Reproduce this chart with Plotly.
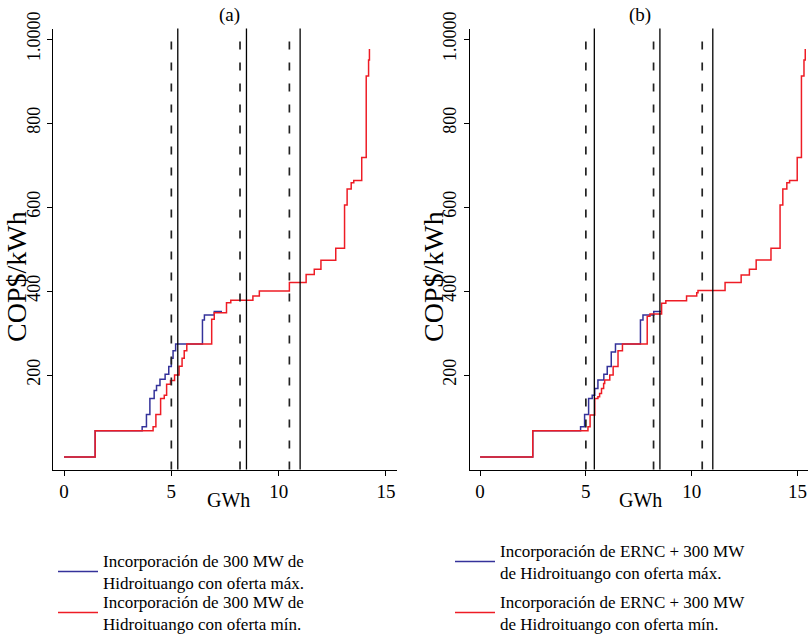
import plotly.graph_objects as go

# ---------------- data ----------------
# Panel (a): step curves (GWh, COP$/kWh)
xa_max = [0, 1.45, 3.64, 3.84, 4.0, 4.2, 4.31, 4.47, 4.71, 4.88, 5.0, 5.08, 5.2, 6.45, 6.54, 7.0, 7.36]
ya_max = [5, 67, 77, 106, 144, 163, 175, 190, 202, 220, 240, 258, 274, 331, 343, 351, 351]

xa_min = [0, 1.45, 4.15, 4.28, 4.5, 4.67, 4.78, 4.96, 5.15, 5.36, 5.5, 5.6, 5.72, 6.88, 7.0, 7.57, 7.77,
          8.8, 9.1, 10.5, 11.28, 11.66, 11.97, 12.66, 13.07, 13.19, 13.38, 13.5, 13.87, 14.08, 14.19, 14.23]
ya_min = [5, 67, 77, 106, 144, 152, 178, 187, 200, 221, 240, 258, 274, 333, 348, 372, 378,
          388, 400, 420, 439, 452, 473, 502, 605, 643, 658, 663, 718, 912, 950, 976]

# Panel (b)
xb_max = [0, 2.49, 4.75, 4.94, 5.13, 5.3, 5.42, 5.57, 5.85, 6.01, 6.2, 6.4, 7.58, 7.7, 8.21, 8.56]
yb_max = [5, 67, 77, 106, 144, 152, 168, 188, 202, 220, 255, 274, 331, 343, 351, 351]

xb_min = [0, 2.49, 5.1, 5.2, 5.42, 5.57, 5.65, 5.74, 5.84, 5.89, 6.13, 6.29, 6.52, 6.73, 7.9, 8.03, 8.58,
          8.78, 9.76, 10.24, 10.3, 11.58, 12.34, 12.73, 13.05, 13.75, 14.18, 14.31, 14.5, 14.63, 14.99,
          15.19, 15.31, 15.37]
yb_min = [5, 67, 77, 105, 144, 148, 156, 168, 180, 188, 200, 220, 258, 274, 340, 345, 371,
          377, 388, 396, 401, 420, 438, 452, 474, 502, 605, 643, 658, 663, 718,
          912, 950, 976]

# reference vertical lines
a_dashed = [5.0, 8.2, 10.5]
a_solid = [5.3, 8.5, 11.0]
b_dashed = [5.0, 8.2, 10.5]
b_solid = [5.4, 8.5, 11.0]

x_ticks = [0, 5, 10, 15]
y_ticks = [200, 400, 600, 800, 1000]
y_ticktext = ["200", "400", "600", "800", "1.0000"]

name_a_max = "Incorporación de 300 MW de<br>Hidroituango con oferta máx."
name_a_min = "Incorporación de 300 MW de<br>Hidroituango con oferta mín."
name_b_max = "Incorporación de ERNC + 300 MW<br>de Hidroituango con oferta máx."
name_b_min = "Incorporación de ERNC + 300 MW<br>de Hidroituango con oferta mín."

BLUE = "#34329a"
RED = "#ee1c25"
FONT = "Liberation Serif"

fig = go.Figure()

fig.add_trace(go.Scatter(x=xa_max, y=ya_max, mode="lines", line=dict(shape="hv", color=BLUE, width=1.5),
                         name=name_a_max, xaxis="x", yaxis="y", legend="legend"))
fig.add_trace(go.Scatter(x=xa_min, y=ya_min, mode="lines", line=dict(shape="hv", color=RED, width=1.5),
                         name=name_a_min, xaxis="x", yaxis="y", legend="legend2"))
fig.add_trace(go.Scatter(x=xb_max, y=yb_max, mode="lines", line=dict(shape="hv", color=BLUE, width=1.5),
                         name=name_b_max, xaxis="x2", yaxis="y2", legend="legend3"))
fig.add_trace(go.Scatter(x=xb_min, y=yb_min, mode="lines", line=dict(shape="hv", color=RED, width=1.5),
                         name=name_b_min, xaxis="x2", yaxis="y2", legend="legend4"))

for xv in a_dashed:
    fig.add_shape(type="line", xref="x", yref="y domain", x0=xv, x1=xv, y0=0, y1=1,
                  line=dict(color="#222", width=1.7, dash="8px,13px"))
for xv in a_solid:
    fig.add_shape(type="line", xref="x", yref="y domain", x0=xv, x1=xv, y0=0, y1=1,
                  line=dict(color="black", width=1.3))
for xv in b_dashed:
    fig.add_shape(type="line", xref="x2", yref="y2 domain", x0=xv, x1=xv, y0=0, y1=1,
                  line=dict(color="#222", width=1.7, dash="8px,13px"))
for xv in b_solid:
    fig.add_shape(type="line", xref="x2", yref="y2 domain", x0=xv, x1=xv, y0=0, y1=1,
                  line=dict(color="black", width=1.3))

W, H = 812, 636
ydom = [(H - 469.5) / H, (H - 28.5) / H]

xax = dict(range=[-0.5, 15.5], tickvals=x_ticks, ticks="outside", ticklen=5, tickcolor="black",
           showline=True, linecolor="black", linewidth=1, showgrid=False, zeroline=False,
           tickfont=dict(family=FONT, size=19, color="black"))
yax = dict(range=[-25, 1025], tickvals=y_ticks, ticktext=y_ticktext, tickangle=-90, ticks="outside",
           ticklen=5, tickcolor="black", showline=True, linecolor="black", linewidth=1, showgrid=False,
           zeroline=False, tickfont=dict(family=FONT, size=18, color="black"), domain=ydom)

leg = dict(bgcolor="rgba(0,0,0,0)", borderwidth=0, font=dict(family=FONT, size=17, color="black"),
           xanchor="left", yanchor="middle", itemwidth=40)


def ann(text, px, py, size, angle=0):
    return dict(text=text, x=px / W, y=(H - py) / H, xref="paper", yref="paper", showarrow=False,
                xanchor="center", yanchor="middle", textangle=angle,
                font=dict(family=FONT, size=size, color="black"))


fig.update_layout(
    width=W, height=H, margin=dict(l=0, r=0, t=0, b=0, autoexpand=False),
    paper_bgcolor="white", plot_bgcolor="white", showlegend=True,
    xaxis=dict(xax, domain=[53.3 / W, 396.7 / W], anchor="y"),
    yaxis=dict(yax, anchor="x"),
    xaxis2=dict(xax, domain=[469.5 / W, 808 / W], anchor="y2"),
    yaxis2=dict(yax, anchor="x2"),
    legend=dict(leg, x=53 / W, y=(H - 572) / H),
    legend2=dict(leg, x=53 / W, y=(H - 613) / H),
    legend3=dict(leg, x=450 / W, y=(H - 562) / H),
    legend4=dict(leg, x=450 / W, y=(H - 613) / H),
    annotations=[
        ann("(a)", 229, 15, 19),
        ann("(b)", 640, 15, 19),
        ann("GWh", 228, 500, 20),
        ann("GWh", 640, 500, 20),
        ann("COP$/kWh", 16, 277, 28, -90),
        ann("COP$/kWh", 433, 277, 28, -90),
    ],
)

fig.write_html("out.html")
